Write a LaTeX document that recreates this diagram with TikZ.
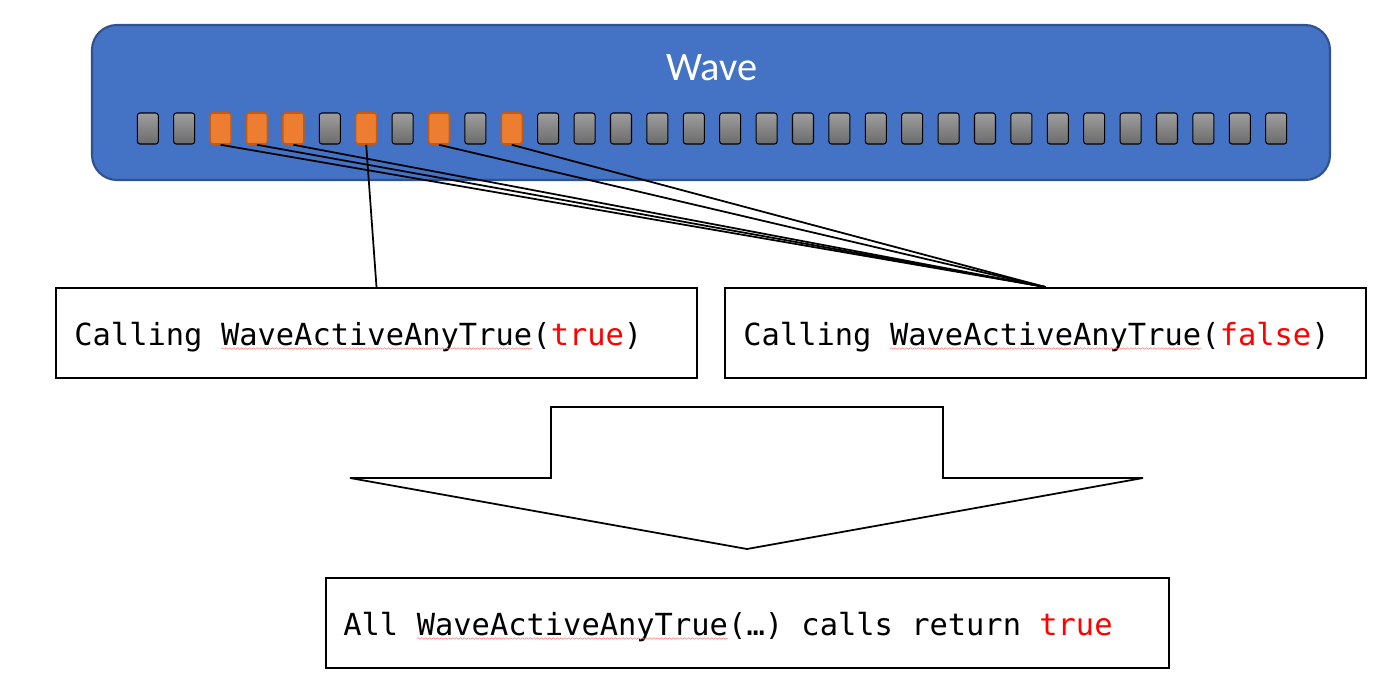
\documentclass[tikz,border=0pt]{standalone}
\usepackage{fontspec}
\setmainfont{Carlito}
\setmonofont{DejaVu Sans Mono}
\usepackage{tikz}
\usetikzlibrary{positioning,decorations.pathmorphing}

\definecolor{waveblue}{HTML}{4472C4}
\definecolor{waveedge}{HTML}{2F528F}
\definecolor{laneorange}{HTML}{ED7D31}
\definecolor{laneedge}{HTML}{C55A11}

\newcommand{\codefont}{\fontsize{17.3}{20}\selectfont\ttfamily}
\newcommand{\squig}[1]{\tikz[baseline=(sq.base)]{\node[inner sep=0pt,outer sep=0pt] (sq) {#1};
  \draw[red!55,line width=0.3pt,decorate,decoration={snake,amplitude=0.45pt,segment length=2.2pt}]
    ([yshift=-2pt]sq.base west) -- ([yshift=-2pt]sq.base east);}}

\begin{document}
\begin{tikzpicture}[
    lanebox/.style={rounded corners=1.5pt,minimum width=0.42cm,minimum height=0.62cm,inner sep=0pt},
    idlelane/.style={lanebox,draw=black,line width=0.6pt,top color=black!38,bottom color=black!58},
    activelane/.style={lanebox,draw=laneedge,line width=0.9pt,fill=laneorange},
    codebox/.style={draw,line width=1.1pt,minimum width=12.82cm,minimum height=1.8cm},
    codetext/.style={anchor=base west,inner sep=0pt,font=\codefont},
    wire/.style={line width=1pt}]

    \useasboundingbox (0,0) rectangle (27.96,-13.94);

    % the wave
    \node (wave) at (14.22,-2.05) [draw=waveedge,fill=waveblue,line width=1.2pt,rounded corners=0.5cm,minimum width=24.76cm,minimum height=3.1cm] {};
    \node (wavetitle) at (14.24,-1.36) [text=white] {\fontsize{23}{27}\selectfont Wave};

    % lanes
    \node (l0) at (2.956,-2.57) [idlelane] {};
    \node (l1) at (3.684,-2.57) [idlelane] {};
    \node (l2) at (4.412,-2.57) [activelane] {};
    \node (l3) at (5.140,-2.57) [activelane] {};
    \node (l4) at (5.868,-2.57) [activelane] {};
    \node (l5) at (6.596,-2.57) [idlelane] {};
    \node (l6) at (7.324,-2.57) [activelane] {};
    \node (l7) at (8.052,-2.57) [idlelane] {};
    \node (l8) at (8.780,-2.57) [activelane] {};
    \node (l9) at (9.508,-2.57) [idlelane] {};
    \node (l10) at (10.236,-2.57) [activelane] {};
    \node (l11) at (10.964,-2.57) [idlelane] {};
    \node (l12) at (11.692,-2.57) [idlelane] {};
    \node (l13) at (12.420,-2.57) [idlelane] {};
    \node (l14) at (13.148,-2.57) [idlelane] {};
    \node (l15) at (13.876,-2.57) [idlelane] {};
    \node (l16) at (14.604,-2.57) [idlelane] {};
    \node (l17) at (15.332,-2.57) [idlelane] {};
    \node (l18) at (16.060,-2.57) [idlelane] {};
    \node (l19) at (16.788,-2.57) [idlelane] {};
    \node (l20) at (17.516,-2.57) [idlelane] {};
    \node (l21) at (18.244,-2.57) [idlelane] {};
    \node (l22) at (18.972,-2.57) [idlelane] {};
    \node (l23) at (19.700,-2.57) [idlelane] {};
    \node (l24) at (20.428,-2.57) [idlelane] {};
    \node (l25) at (21.156,-2.57) [idlelane] {};
    \node (l26) at (21.884,-2.57) [idlelane] {};
    \node (l27) at (22.612,-2.57) [idlelane] {};
    \node (l28) at (23.340,-2.57) [idlelane] {};
    \node (l29) at (24.068,-2.57) [idlelane] {};
    \node (l30) at (24.796,-2.57) [idlelane] {};
    \node (l31) at (25.524,-2.57) [idlelane] {};

    % the two calls
    \node (callt) at (7.53,-6.66) [codebox] {};
    \node (callf) at (20.91,-6.66) [codebox] {};
    \node (callttext) at (1.48,-6.9) [codetext] {Calling \squig{WaveActiveAnyTrue}(\textcolor{red}{true})};
    \node (callftext) at (14.86,-6.9) [codetext] {Calling \squig{WaveActiveAnyTrue}(\textcolor{red}{false})};

    \draw[wire] (l6.south) -- (callt.north);
    \draw[wire] (l2.south) -- (callf.north);
    \draw[wire] (l3.south) -- (callf.north);
    \draw[wire] (l4.south) -- (callf.north);
    \draw[wire] (l8.south) -- (callf.north);
    \draw[wire] (l10.south) -- (callf.north);

    % big arrow
    \draw[line width=1pt,fill=white] (11.02,-8.14) -- (18.86,-8.14) -- (18.86,-9.56) -- (22.86,-9.56)
      -- (14.94,-10.98) -- (7.0,-9.56) -- (11.02,-9.56) -- cycle;

    % result
    \node (result) at (14.95,-12.46) [codebox,minimum width=16.86cm] {};
    \node (resulttext) at (6.86,-12.7) [codetext] {All \squig{WaveActiveAnyTrue}(…) calls return \textcolor{red}{true}};

\end{tikzpicture}
\end{document}
